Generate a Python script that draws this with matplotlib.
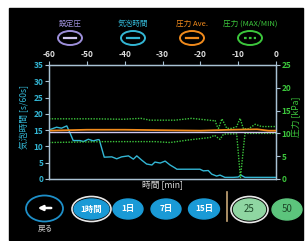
import matplotlib
matplotlib.use("Agg")
import matplotlib.pyplot as plt
from matplotlib.patches import Ellipse, Rectangle

plt.rcParams['font.family'] = ['Noto Sans CJK JP', 'DejaVu Sans']
plt.rcParams['axes.unicode_minus'] = False

# ---- data ----
# bubble time [s/60s], left axis
bubble_t = [-60, -59.7, -58, -56.7, -55.3, -54.4, -53.6, -51.8, -50.9, -49.6, -48.3, -47, -46.7,
            -45.4, -43.4, -42.1, -40.8, -39, -37.7, -36.8, -35.5, -34.2, -32.8, -32, -30.6,
            -29.3, -28, -26.7, -26.2, -24, -22, -20.1, -19.2, -17.9, -17, -15.7, -14.8,
            -13.5, -11.3, -10, -9.3, -8.2, 0]
bubble_v = [15.3, 15.2, 15.9, 15.6, 16.3, 14.0, 11.8, 11.8, 11.5, 12.2, 11.7, 12.1, 12.0,
            6.7, 6.8, 6.2, 6.8, 7.1, 6.1, 7.1, 5.8, 4.6, 4.3, 5.2, 4.9,
            5.5, 4.3, 3.4, 3.0, 3.0, 3.0, 3.0, 2.5, 2.6, 1.5, 0.9, 1.2,
            0.5, 0.5, 0.6, 1.2, 0.5, 0.5]

# pressure [kPa], right axis
set_t = [-60, 0]
set_v = [10.3, 10.3]

ave_t = [-60, -50, -40, -30, -20, -12, -5, -2, 0]
ave_v = [10.6, 10.8, 10.8, 10.7, 10.6, 10.8, 10.9, 10.6, 10.6]

max_t = [-60, -48, -40.5, -35.7, -33.3, -29.8, -26.7, -22.3, -16.6, -16.1, -15.7, -15.2,
         -14.3, -13.0, -11.7, -10.4, -9.5, -8.6, -7.3, -5.5, -3.8, 0]
max_v = [13.2, 13.2, 13.1, 13.3, 12.9, 12.9, 12.9, 13.3, 12.8, 12.9, 11.8, 11.1,
         13.2, 11.1, 11.1, 11.5, 13.3, 11.0, 11.0, 12.0, 11.5, 11.5]

min_t = [-60, -45, -32, -28, -22.7, -17.4, -16.3, -14.8, -13.9, -13.0, -10.4, -9.4,
         -8.2, -5, 0]
min_v = [8.0, 8.2, 8.2, 8.0, 8.6, 9.1, 9.6, 8.7, 9.8, 9.9, 9.9, 0.3,
         10.0, 10.0, 10.0]

x_ticks = [-60, -50, -40, -30, -20, -10, 0]
left_ticks = [0, 5, 10, 15, 20, 25, 30, 35]
right_ticks = [0, 5, 10, 15, 20, 25]

legend_labels = ['設定圧', '気泡時間', '圧力 Ave.', '圧力 (MAX/MIN)']
range_buttons = ['1時間', '1日', '7日', '15日']
scale_buttons = ['25', '50']

# ---- colours ----
CYAN = '#33b6d4'
GREEN = '#3cc63c'
ORANGE = '#f08a1c'
PURPLE = '#9d8fda'
LAVENDER = '#cfc6ee'
SPINE = '#a9c2d4'
BLUE = '#1a9ad6'

fig = plt.figure(figsize=(3.06, 2.41), dpi=100, facecolor='white')

# overlay in pixel coordinates for the device screen decorations
bg = fig.add_axes([0, 0, 1, 1], zorder=0)
bg.set_xlim(0, 306)
bg.set_ylim(241, 0)
bg.axis('off')
bg.add_patch(Rectangle((9, 8), 294, 232, color='black'))

# legend row
leg_x = [70, 133, 192, 250]
leg_cols = [PURPLE, CYAN, ORANGE, GREEN]
leg_line = [LAVENDER, CYAN, ORANGE, GREEN]
for i in range(4):
    bg.text(leg_x[i], 24, legend_labels[i], color=leg_cols[i], fontsize=5.5,
            ha='center', va='center')
    bg.add_patch(Ellipse((leg_x[i], 38), 24, 14, fill=False, ec=leg_cols[i], lw=1.4))
    ls = (0, (1.2, 1)) if i == 3 else '-'
    bg.plot([leg_x[i] - 6, leg_x[i] + 6], [38, 38], color=leg_line[i], lw=1.6, ls=ls)

# buttons
bg.add_patch(Ellipse((44.5, 208.5), 37, 26, fill=False, ec='#1e8fc8', lw=1.3))
bg.annotate('', xy=(35, 208), xytext=(54, 208),
            arrowprops=dict(arrowstyle='-|>', color='white', lw=1.8, mutation_scale=7))
bg.text(45, 229, '戻る', color='#cccccc', fontsize=5.5, ha='center', va='center')

btn_x = [91.5, 128, 166, 204]
btn_w = [35, 30, 30, 31]
for i in range(4):
    if i == 0:
        bg.add_patch(Ellipse((btn_x[i], 209), btn_w[i] + 4, 25, fc='black', ec='#e8e8e8', lw=1.2))
    bg.add_patch(Ellipse((btn_x[i], 209), btn_w[i], 20, color=BLUE))
    bg.text(btn_x[i], 209, range_buttons[i], color='white', fontsize=6, fontweight='bold',
            ha='center', va='center')

bg.plot([227, 227], [192, 221], color='#c8a878', lw=1.2)

bg.add_patch(Ellipse((249.5, 209.5), 37, 26, fc='black', ec='#e8e8e8', lw=1.2))
bg.add_patch(Ellipse((249.5, 209.5), 32, 21, color='#8fd6a2'))
bg.text(249.5, 209.5, scale_buttons[0], color='#1e4a2a', fontsize=7, ha='center', va='center')
bg.add_patch(Ellipse((287, 209.5), 30, 21, color='#5cc47c'))
bg.text(287, 209.5, scale_buttons[1], color='#1e4a2a', fontsize=7, ha='center', va='center')

# ---- chart ----
ax = fig.add_axes([49 / 306, 1 - 179 / 241, 227 / 306, 114 / 241], zorder=2)
ax.set_facecolor('black')
ax.plot(bubble_t, bubble_v, color=CYAN, lw=1.0, zorder=3)
ax.set_xlim(-60, 0)
ax.set_ylim(0, 35)
ax.set_xticks(x_ticks)
ax.set_yticks(left_ticks)
ax.xaxis.tick_top()
ax.tick_params(axis='x', colors=SPINE, labelcolor='#e0e0e0', labelsize=6, length=3, pad=1)
ax.tick_params(axis='y', colors=SPINE, labelcolor=CYAN, labelsize=6, length=3, pad=1)
for lab in ax.get_xticklabels() + ax.get_yticklabels():
    lab.set_fontweight('bold')
for s in ax.spines.values():
    s.set_color(SPINE)
    s.set_linewidth(1.0)

ax2 = ax.twinx()
ax2.plot(max_t, max_v, color=GREEN, lw=1.0, ls=(0, (1, 1)))
ax2.plot(min_t, min_v, color=GREEN, lw=1.0, ls=(0, (1, 1)))
ax2.plot(set_t, set_v, color=LAVENDER, lw=1.0)
ax2.plot(ave_t, ave_v, color=ORANGE, lw=1.3)
ax2.set_ylim(0, 25)
ax2.set_yticks(right_ticks)
ax2.tick_params(axis='y', colors=SPINE, labelcolor=GREEN, labelsize=6, length=3, pad=1)
for lab in ax2.get_yticklabels():
    lab.set_fontweight('bold')
for s in ax2.spines.values():
    s.set_color(SPINE)

# axis titles
bg.text(24, 117, '気泡時間 [s/60s]', color=CYAN, fontsize=6.3, rotation=90,
        ha='center', va='center')
bg.text(296, 117, '圧力 [kPa]', color=GREEN, fontsize=6.3, rotation=90,
        ha='center', va='center')
bg.text(162, 185, '時間 [min]', color='#dddddd', fontsize=6.3, ha='center', va='center')

fig.savefig('out.png', dpi=100, facecolor='white')
